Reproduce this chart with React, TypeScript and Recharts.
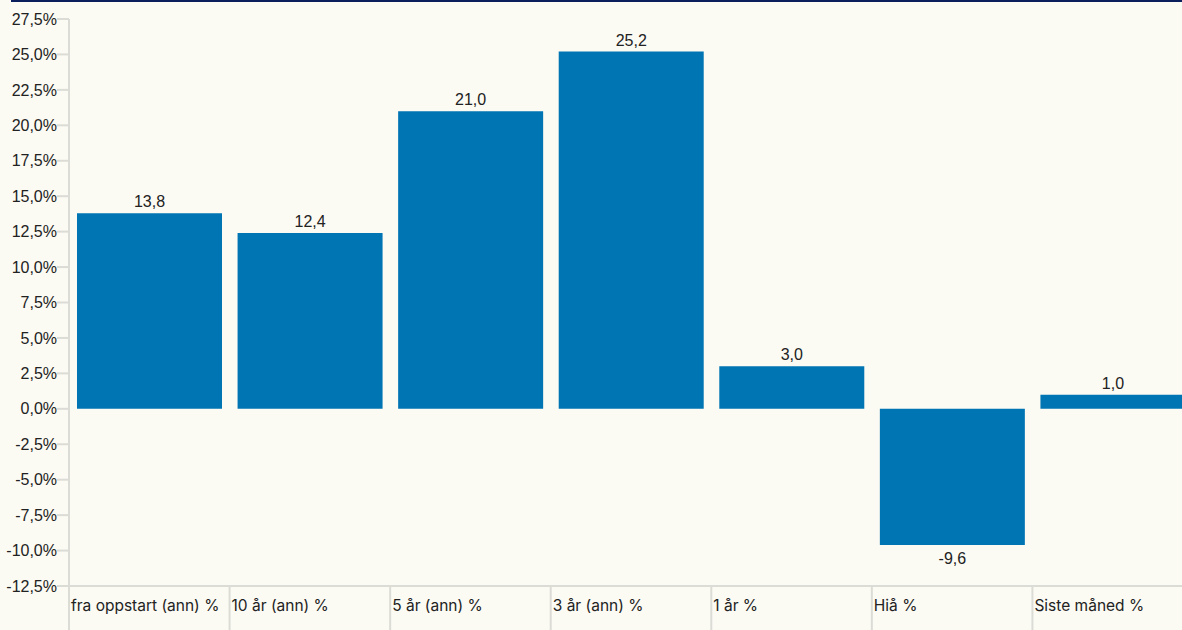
import { BarChart, Bar, XAxis, YAxis, LabelList } from "recharts";

const categories = ["fra oppstart (ann) %", "10 år (ann) %", "5 år (ann) %", "3 år (ann) %", "1 år %", "Hiå %", "Siste måned %"];
const returns = [13.8, 12.4, 21.0, 25.2, 3.0, -9.6, 1.0];
const yTicks = [-12.5, -10, -7.5, -5, -2.5, 0, 2.5, 5, 7.5, 10, 12.5, 15, 17.5, 20, 22.5, 25, 27.5];

const chartData = categories.map((name, i) => ({ name, value: returns[i] }));

const WIDTH = 1201;
const HEIGHT = 630;
const LEFT = 69;
const RIGHT_MARGIN = 8;
const X_AXIS_H = 44;
const BAND = (WIDTH - LEFT - RIGHT_MARGIN) / categories.length;

const fmt = (v: number, d = 1) => v.toFixed(d).replace(".", ",");

const CategoryTick = (props: any) => {
    const { x, payload } = props;
    const left = x - BAND / 2;
    const top = HEIGHT - X_AXIS_H;
    return (
        <g>
            <line x1={left} x2={left} y1={top} y2={HEIGHT} stroke="#dcdcd6" strokeWidth={2} />
            <text x={left + 2} y={top + 25} fill="#222" fontSize={15.5} fontFamily="Inter, 'Noto Sans', sans-serif">
                {payload.value}
            </text>
        </g>
    );
};

const ValueLabel = (props: any) => {
    const { x, y, width, height, value } = props;
    const top = Math.min(y, y + height);
    const bottom = Math.max(y, y + height);
    const cx = x + width / 2;
    return (
        <text
            x={cx}
            y={value >= 0 ? top - 6 : bottom + 19}
            textAnchor="middle"
            fill="#222"
            fontSize={16}
            fontFamily="'Liberation Sans', Arial, sans-serif"
        >
            {fmt(value)}
        </text>
    );
};

export default function App() {
    return (
        <div style={{ position: "absolute", left: 0, top: 0, width: 1182, height: HEIGHT, overflow: "hidden", background: "#fbfaf3" }}>
            <div style={{ position: "absolute", left: 11, top: 0, right: 0, height: 2, background: "#0b1f5c" }} />
            <BarChart
                width={WIDTH}
                height={HEIGHT}
                data={chartData}
                margin={{ top: 19, right: RIGHT_MARGIN, left: 0, bottom: 0 }}
                barCategoryGap={8}
            >
                <XAxis
                    dataKey="name"
                    height={X_AXIS_H}
                    axisLine={{ stroke: "#dcdcd6", strokeWidth: 2 }}
                    tickLine={false}
                    tick={<CategoryTick />}
                    interval={0}
                />
                <YAxis
                    width={LEFT}
                    domain={[-12.5, 27.5]}
                    ticks={yTicks}
                    interval={0}
                    axisLine={{ stroke: "#dcdcd6", strokeWidth: 2 }}
                    tickLine={{ stroke: "#dcdcd6", strokeWidth: 2 }}
                    tickSize={12}
                    tickMargin={0}
                    tickFormatter={(v: number) => `${fmt(v)}%`}
                    tick={{ fill: "#222", fontSize: 16, fontFamily: "'Liberation Sans', Arial, sans-serif" }}
                />
                <Bar dataKey="value" fill="#0075b3" isAnimationActive={false}>
                    <LabelList dataKey="value" content={<ValueLabel />} />
                </Bar>
            </BarChart>
        </div>
    );
}
